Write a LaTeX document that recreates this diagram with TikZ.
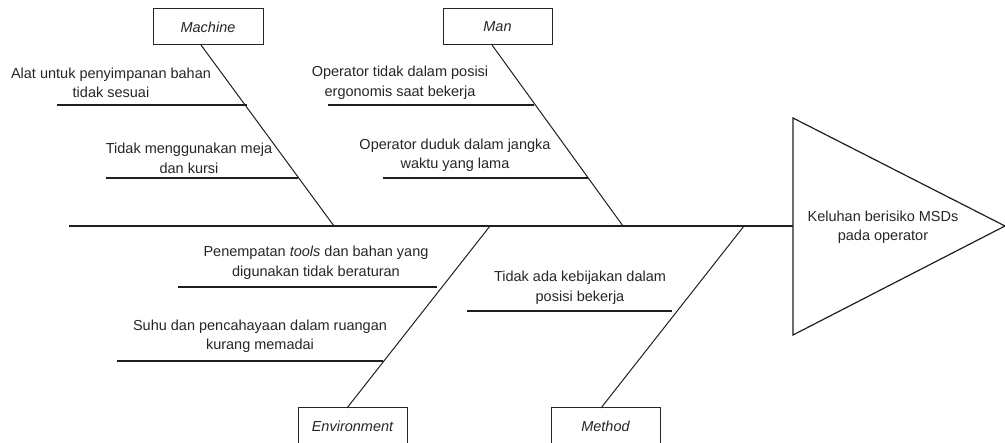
\documentclass[tikz,border=0pt]{standalone}
\usepackage{fontspec}
\setmainfont{Liberation Sans}
\begin{document}
\begin{tikzpicture}[x=1pt,y=-1pt,
  lbl/.style={align=center,text=black!85,font=\fontsize{14.5}{19.5}\selectfont,inner sep=0pt},
  catbox/.style={draw=black!85,line width=1pt,minimum height=36pt,inner sep=0pt,text=black!85,font=\fontsize{14.5}{17}\selectfont\itshape},
  spine/.style={draw=black!88,line width=2pt},
  rib/.style={draw=black!88,line width=1.5pt},
  bone/.style={draw=black!88,line width=1pt}]
\useasboundingbox (0,0) rectangle (1005,443);
% category boxes
\node[catbox,minimum width=110pt] (mach) at (208,27) {Machine};
\node[catbox,minimum width=109pt] (man) at (497.5,27) {Man};
\node[catbox,minimum width=109pt] (env) at (352.5,426) {Environment};
\node[catbox,minimum width=109pt] (meth) at (605.5,426) {Method};
% effect triangle
\coordinate (t1) at (793,118);
\coordinate (t2) at (1005,226);
\coordinate (t3) at (793,335);
\draw[draw=black!88,line width=1.2pt,line join=miter] (t1) -- (t2) -- (t3) -- cycle;
\node[lbl] (effect) at (883,227.5) {Keluhan berisiko MSDs\\pada operator};
% spine
\coordinate (tail) at (69,226);
\coordinate (head) at (793,226);
\draw[spine] (tail) -- (head);
% bone end points
\coordinate (mtop) at (201,45);  \coordinate (mbot) at (334,226);
\coordinate (ntop) at (492,45);  \coordinate (nbot) at (623,226);
\coordinate (etop) at (490,226); \coordinate (ebot) at (347,408);
\coordinate (dtop) at (744,226); \coordinate (dbot) at (601,408);
\draw[bone] (mtop) -- (mbot);
\draw[bone] (ntop) -- (nbot);
\draw[bone] (etop) -- (ebot);
\draw[bone] (dtop) -- (dbot);
% ribs
\coordinate (m1a) at (57,105);  \coordinate (m1b) at (247,105);
\coordinate (m2a) at (106,178); \coordinate (m2b) at (298,178);
\coordinate (n1a) at (328,105); \coordinate (n1b) at (534,105);
\coordinate (n2a) at (383,178); \coordinate (n2b) at (588,178);
\coordinate (e1a) at (178,287); \coordinate (e1b) at (437,287);
\coordinate (e2a) at (117,361); \coordinate (e2b) at (383,361);
\coordinate (d1a) at (467,311); \coordinate (d1b) at (672,311);
\draw[rib] (m1a) -- (m1b);
\draw[rib] (m2a) -- (m2b);
\draw[rib] (n1a) -- (n1b);
\draw[rib] (n2a) -- (n2b);
\draw[rib] (e1a) -- (e1b);
\draw[rib] (e2a) -- (e2b);
\draw[rib] (d1a) -- (d1b);
% cause labels
\node[lbl] (c1) at (111,83) {Alat untuk penyimpanan bahan\\tidak sesuai};
\node[lbl] (c2) at (189,158.5) {Tidak menggunakan meja\\dan kursi};
\node[lbl] (c3) at (400,83) {Operator tidak dalam posisi\\ergonomis saat bekerja};
\node[lbl] (c4) at (455,155.5) {Operator duduk dalam jangka\\waktu yang lama};
\node[lbl] (c5) at (316,263) {Penempatan \textit{tools} dan bahan yang\\digunakan tidak beraturan};
\node[lbl] (c6) at (260,336.5) {Suhu dan pencahayaan dalam ruangan\\kurang memadai};
\node[lbl] (c7) at (580,288) {Tidak ada kebijakan dalam\\posisi bekerja};
\end{tikzpicture}
\end{document}
